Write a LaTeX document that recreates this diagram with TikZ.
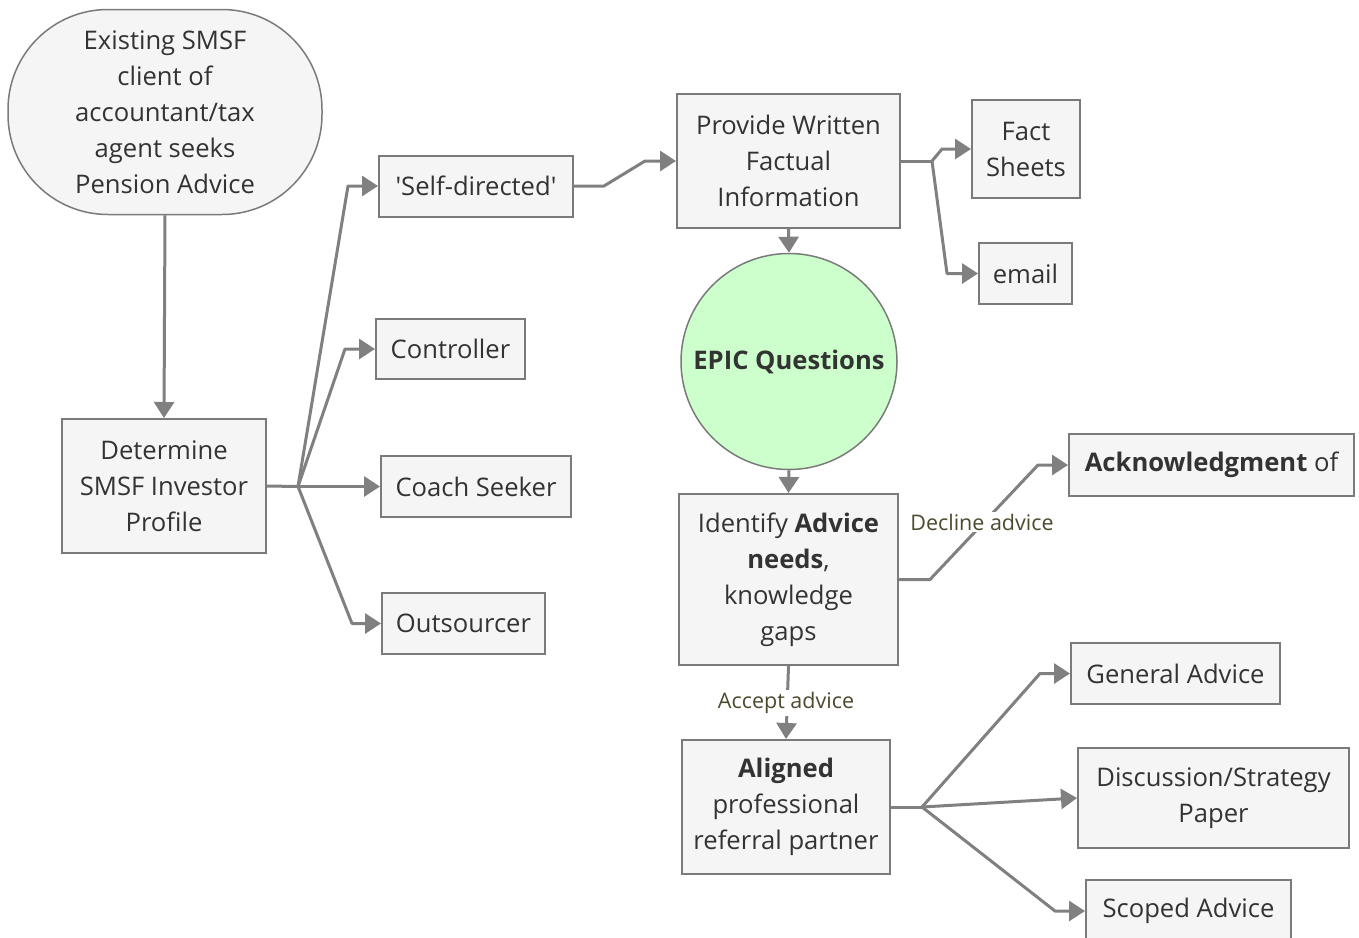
\documentclass[tikz,border=0pt]{standalone}
\usepackage{fontspec}
\setmainfont{Open Sans}
\usetikzlibrary{arrows.meta}
\definecolor{lgrey}{HTML}{808080}
\definecolor{bgrey}{HTML}{7A7A7A}
\definecolor{boxfill}{HTML}{F5F5F5}
\definecolor{txt}{HTML}{333333}
\definecolor{lbl}{HTML}{4D4A2E}
\definecolor{epic}{HTML}{CCFFCC}
\begin{document}
\begin{tikzpicture}[x=1pt,y=-1pt,
 box/.style={draw=bgrey,line width=2pt,fill=boxfill,inner sep=0pt,align=center,text=txt,font=\fontsize{25.6}{36}\selectfont},
 conn/.style={draw=lgrey,line width=3pt,line join=round},
 arr/.style={conn,-{Triangle[length=16pt,width=20pt]}},
 lab/.style={fill=white,text=lbl,font=\fontsize{21.5}{26}\selectfont,inner sep=2pt}]
\useasboundingbox[fill=white] (0,0) rectangle (1359,937);

\node[box,line width=1.5pt,rounded corners=100pt,minimum width=314pt,minimum height=205pt] (start) at (165,112)
  {Existing SMSF\\client of\\accountant/tax\\agent seeks\\Pension Advice};
\node[box,minimum width=204pt,minimum height=134pt] (det) at (164,486) {Determine\\SMSF Investor\\Profile};
\node[box,minimum width=194pt,minimum height=61pt] (sd) at (476,186) {\textquotesingle Self-directed\textquotesingle};
\node[box,minimum width=149pt,minimum height=60pt] (ctl) at (450.5,349) {Controller};
\node[box,minimum width=190pt,minimum height=61pt] (coach) at (476,486.5) {Coach Seeker};
\node[box,minimum width=163pt,minimum height=61pt] (outs) at (463.5,623.5) {Outsourcer};
\node[box,minimum width=223pt,minimum height=134pt] (prov) at (788.5,161) {Provide Written\\Factual\\Information};
\node[box,minimum width=108pt,minimum height=98pt] (fact) at (1026,149) {Fact\\Sheets};
\node[box,minimum width=93pt,minimum height=61pt] (email) at (1025.5,273.5) {email};
\node[box,circle,fill=epic,line width=1.5pt,minimum size=216pt,font=\fontsize{25.6}{36}\selectfont\bfseries] (epicq) at (789,361.5) {EPIC Questions};
\node[box,minimum width=219pt,minimum height=171pt] (ident) at (788.5,579.5) {Identify \textbf{Advice}\\\textbf{needs},\\knowledge\\gaps};
\node[box,minimum width=285pt,minimum height=62pt] (ack) at (1211.5,465) {\textbf{Acknowledgment} of};
\node[box,minimum width=208pt,minimum height=134pt] (align) at (786,807) {\textbf{Aligned}\\professional\\referral partner};
\node[box,minimum width=209pt,minimum height=61pt] (gen) at (1175.5,673.5) {General Advice};
\node[box,minimum width=271pt,minimum height=100pt] (disc) at (1213.5,798) {Discussion/Strategy\\Paper};
\node[box,minimum width=205pt,minimum height=62pt] (scop) at (1188.5,911) {Scoped Advice};

% start -> determine
\draw[arr] (start.south) -- (det.north);
% determine fan
\coordinate (b1) at (298,486.5);
\draw[conn] (det.east) -- (b1);
\draw[arr] (b1) -- (348,186) -- (sd.west);
\draw[arr] (b1) -- (345,349) -- (ctl.west);
\draw[arr] (b1) -- (coach.west);
\draw[arr] (b1) -- (352,623.5) -- (outs.west);
% self-directed -> provide
\draw[arr] (sd.east) -- (604,186) -- (645,161) -- (prov.west);
% provide fan
\coordinate (b2) at (932,161);
\draw[conn] (prov.east) -- (b2);
\draw[arr] (b2) -- (942,149) -- (fact.west);
\draw[arr] (b2) -- (947,273.5) -- (email.west);
% provide -> epic -> identify
\draw[arr] (prov.south) -- (epicq.north);
\draw[arr] (epicq.south) -- (ident.north);
% decline
\draw[arr] (ident.east) -- (930,579.5) -- (1038,465) -- (ack.west);
\node[lab] (dl) at (982,522) {Decline advice};
% accept
\draw[arr] (ident.south) -- (align.north);
\node[lab] (al) at (786,703) {Accept advice};
% aligned fan
\coordinate (b3) at (922,807);
\draw[conn] (align.east) -- (b3);
\draw[arr] (b3) -- (1040,673.5) -- (gen.west);
\draw[arr] (b3) -- (disc.west);
\draw[arr] (b3) -- (1055,911) -- (scop.west);
\end{tikzpicture}
\end{document}
